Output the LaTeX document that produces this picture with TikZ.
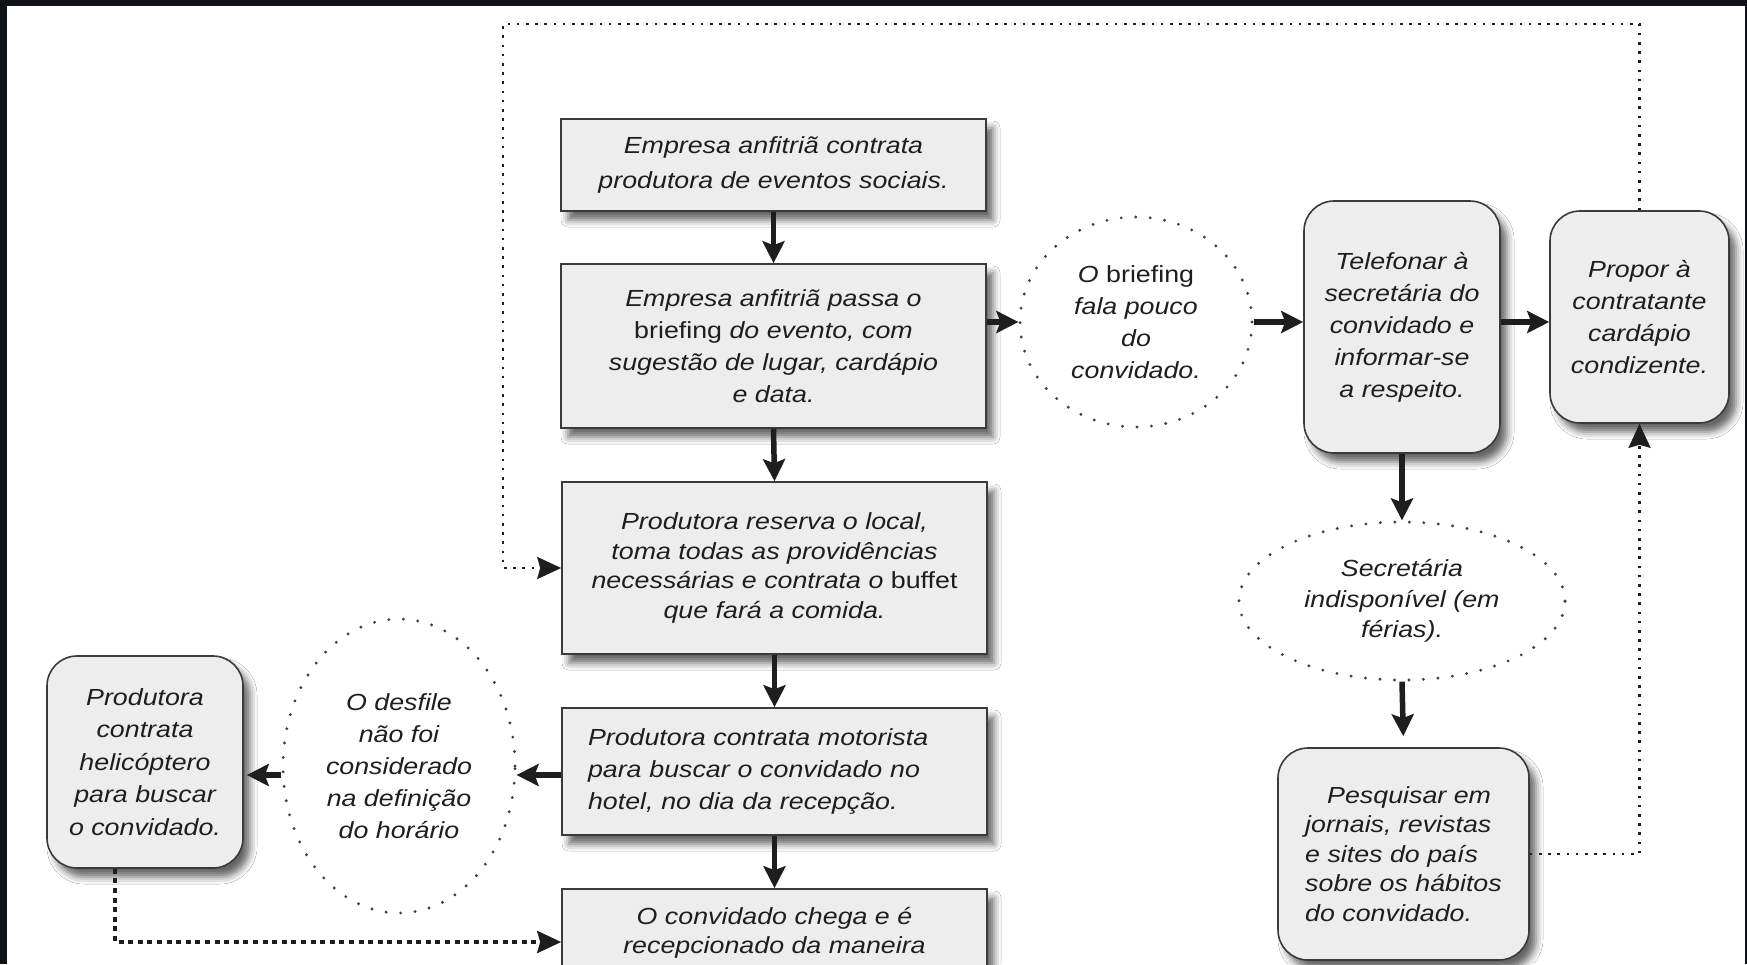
\documentclass[tikz,border=0pt]{standalone}
\usepackage{fontspec}
\setmainfont{Liberation Sans}[FakeStretch=1.15]
\usetikzlibrary{arrows.meta,shadows.blur,shapes.geometric,calc}
\definecolor{boxfill}{HTML}{ECEDEC}
\definecolor{boxline}{HTML}{3A3A3A}
\definecolor{framecol}{HTML}{0E1115}
\definecolor{ink}{HTML}{1E1E1E}
\begin{document}
\begin{tikzpicture}[x=1pt,y=-1pt,
  mainfont/.style={font=\fontsize{23.3}{32}\selectfont\itshape},
  sqbox/.style={draw=boxline, line width=1.6pt, fill=boxfill, text=ink,
    blur shadow={shadow xshift=7pt, shadow yshift=-9pt, shadow blur radius=7pt, shadow opacity=60},
    align=center, inner sep=0pt, mainfont},
  rbox/.style={sqbox, rounded corners=30pt},
  dotell/.style={ellipse, draw=ink!85, line width=3.2pt, dash pattern=on 0pt off 14.5pt,
    line cap=round, text=ink, align=center, inner sep=0pt, mainfont},
  flow/.style={line width=5.5pt, draw=ink, -{Stealth[length=22pt,width=22pt,inset=4pt]}},
  loopline/.style={line width=2.6pt, draw=ink, dash pattern=on 2.6pt off 6.6pt,
    -{Stealth[length=24pt,width=22pt,inset=3pt]}},
  thickloop/.style={line width=4pt, draw=ink, dash pattern=on 5pt off 4.6pt,
    -{Stealth[length=24pt,width=22pt,inset=3pt]}}
]
\useasboundingbox (0,0) rectangle (1747,964);
\fill[framecol] (0,0) rectangle (1747,964);
\fill[white] (7,6) rectangle (1745,964);
\begin{scope}
\clip (7,6) rectangle (1745,964);

% main column
\node[sqbox, minimum width=425pt, minimum height=92pt, font=\fontsize{23.3}{35}\selectfont\itshape] (b1) at (773.5,165)
  {Empresa anfitriã contrata\\produtora de eventos sociais.};
\node[sqbox, minimum width=425pt, minimum height=164pt] (b2) at (773.5,346)
  {Empresa anfitriã passa o\\{\upshape briefing} do evento, com\\sugestão de lugar, cardápio\hspace*{16pt}\\e data.};
\node[sqbox, minimum width=425pt, minimum height=172pt, font=\fontsize{23.3}{29.5}\selectfont\itshape] (b3) at (774.5,568)
  {Produtora reserva o local,\\toma todas as providências\\necessárias e contrata o {\upshape buffet}\\que fará a comida.};
\node[sqbox, minimum width=425pt, minimum height=127pt, text width=373pt, align=left, inner xsep=26pt] (b4) at (774.5,771.5)
  {Produtora contrata motorista\\para buscar o convidado no\\hotel, no dia da recepção.};
\node[sqbox, minimum width=425pt, minimum height=87pt, font=\fontsize{23.3}{29}\selectfont\itshape] (b5) at (774.5,932.5)
  {O convidado chega e é\\recepcionado da maneira};

% right part
\node[dotell, minimum width=232pt, minimum height=210pt] (e1) at (1136,322)
  {O {\upshape briefing}\\fala pouco\\do\\convidado.};
\node[rbox, minimum width=196pt, minimum height=252pt] (tel) at (1402,327)
  {Telefonar à\\secretária do\\convidado e\\informar-se\\a respeito.};
\node[rbox, minimum width=179pt, minimum height=212pt] (prop) at (1639.5,317)
  {Propor à\\contratante\\cardápio\\condizente.};
\node[dotell, minimum width=326pt, minimum height=158pt, font=\fontsize{23.3}{30.5}\selectfont\itshape] (e2) at (1402,601)
  {Secretária\\indisponível (em\\férias).};
\node[rbox, minimum width=251pt, minimum height=212pt, align=left, font=\fontsize{23.3}{29.5}\selectfont\itshape] (pesq) at (1403.5,854)
  {\hspace*{22pt}Pesquisar em\\jornais, revistas\\e sites do país\\sobre os hábitos\\do convidado.};

% left part
\node[dotell, minimum width=232pt, minimum height=294pt, font=\fontsize{23.3}{32}\selectfont\itshape] (e3) at (399,766)
  {O desfile\\não foi\\considerado\\na definição\\do horário};
\node[rbox, minimum width=196pt, minimum height=212pt, font=\fontsize{23.3}{32.5}\selectfont\itshape] (heli) at (145,762)
  {Produtora\\contrata\\helicóptero\\para buscar\\o convidado.};

% helper coordinates
\coordinate (lowy) at (0,775);
\coordinate (topy) at (0,24);
\coordinate (leftx) at (503,0);
\coordinate (helix) at (115,0);
\coordinate (b5y) at (0,942);

% flow arrows
\draw[flow] (b1.south) -- (b2.north);
\draw[flow] (b2.south) -- (b3.north);
\draw[flow] (b3.south) -- (b4.north);
\draw[flow] (b4.south) -- (b5.north);
\draw[flow] (e1.west -| b2.east) -- (e1.west);
\draw[flow] (e1.east) -- (e1.east -| tel.west);
\draw[flow] (tel.east |- e1.east) -- (prop.west |- e1.east);
\draw[flow] (tel.south) -- (e2.north);
\draw[flow, shorten >=11pt] (e2.south) -- (pesq.north);
\draw[flow] (b4.west |- lowy) -- (e3.east |- lowy);
\draw[flow, shorten >=3pt] (e3.west |- lowy) -- (heli.east |- lowy);

% dotted loops
\draw[loopline] (prop.north) -- (prop.north |- topy) -- (leftx |- topy) -- (leftx |- b3.west) -- (b3.west);
\draw[loopline] (pesq.east) -| (prop.south);
\draw[thickloop] (helix |- heli.south) -- (helix |- b5y) -- (b5.west |- b5y);
\end{scope}
\end{tikzpicture}
\end{document}
